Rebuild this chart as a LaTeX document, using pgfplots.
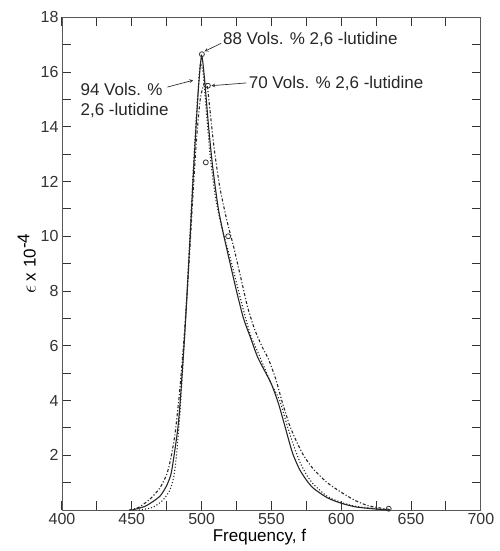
\documentclass[border=0pt]{standalone}
\usepackage{pgfplots}
\pgfplotsset{compat=1.18}
\usepackage{fontspec}
\setmainfont{Liberation Sans}
\begin{document}
\begin{tikzpicture}
\begin{axis}[
  at={(62pt,41pt)}, anchor=south west,
  width=419pt, height=493pt, scale only axis,
  xmin=400, xmax=700, ymin=0, ymax=18,
  xtick={400,450,...,700}, ytick={2,4,...,18},
  minor xtick={425,475,...,675}, minor ytick={1,3,...,17},
  tick align=inside, xtick pos=both, ytick pos=both,
  major tick length=9pt, minor tick length=9pt,
  xtick style={draw=black!80, line width=1pt},
  ytick style={draw=black!80, line width=1pt},
  axis line style={black!65, line width=0.8pt},
  font=\fontsize{17}{20}\selectfont,
  tick label style={font=\fontsize{16}{19}\selectfont, text=black!80},
  /pgf/number format/assume math mode=true,
  /pgf/number format/1000 sep={},
  xlabel={Frequency, f},
  ylabel={{\fontsize{21}{21}\selectfont$\epsilon$} x 10$^{\textrm{-4}}$},
  xlabel style={xshift=-12pt, yshift=3pt},
  ylabel style={yshift=-2pt},
  clip=false,
]
\path (rel axis cs:-0.148,-0.083) rectangle (rel axis cs:1.045,1.035);
% solid
\addplot[black!85, line width=1.1pt, smooth, tension=0.4] coordinates {
(450,0) (460,0.15) (470,0.5) (475,0.9) (478,1.3) (480,1.9) (483,3.0) (485,4.2)
(488,6.5) (490,8.3) (492,10.2) (494,12.2) (496,14.0) (498,15.6) (500,16.6)
(502,15.8) (505,14.0) (508,12.5) (512,11.0) (516,10.0) (520,9.1) (525,8.0)
(530,7.0) (535,6.3) (540,5.6) (545,5.1) (550,4.6) (555,3.9) (560,3.0)
(565,2.1) (570,1.5) (575,1.1) (580,0.8) (590,0.45) (600,0.25) (610,0.12)
(620,0.06) (635,0.0)};
% dotted
\addplot[black!85, line width=1.1pt, dotted, smooth, tension=0.4] coordinates {
(455,0) (465,0.1) (472,0.35) (477,0.7) (480,1.2) (482,2.0) (484,3.2) (486,4.8)
(488,6.5) (490,8.4) (492,10.4) (494,12.4) (496,14.2) (498,15.7) (499,16.3)
(501,16.0) (503,14.8) (506,13.0) (510,11.4) (515,10.2) (520,9.3) (525,8.3)
(530,7.3) (535,6.4) (540,5.8) (545,5.2) (550,4.6) (556,4.0) (560,3.3)
(565,2.5) (570,1.8) (575,1.3) (580,0.95) (590,0.5) (600,0.28) (610,0.14)
(625,0.05) (635,0)};
% dash-dot
\addplot[black!85, line width=1.1pt, dash dot, smooth, tension=0.4] coordinates {
(448,0) (455,0.1) (463,0.4) (470,0.8) (475,1.3) (478,1.9) (481,2.8) (484,4.2)
(487,6.0) (490,8.2) (493,10.8) (496,13.3) (499,15.0) (502,15.6) (504,15.5)
(506,14.6) (509,13.2) (513,11.8) (518,10.6) (523,9.6) (528,8.5) (533,7.4)
(538,6.6) (543,6.0) (548,5.5) (553,4.8) (558,3.9) (563,3.1) (568,2.5)
(573,2.0) (580,1.5) (590,1.0) (600,0.65) (610,0.35) (620,0.15) (635,0.02)};
% circles
\addplot[only marks, mark=o, mark size=2.5pt, black!80, line width=0.8pt] coordinates {
(500.2,16.65) (504.5,15.5) (503,12.7) (519,10.0) (634,0.05)};
% annotations
\node[anchor=west, inner sep=1pt, text=black!85] at (axis cs:514.5,17.2) {88 Vols. \% 2,6 -lutidine};
\draw[->, >=stealth, black!80, line width=0.7pt] (axis cs:514,17.05) -- (axis cs:502,16.75);
\node[anchor=west, inner sep=1pt, text=black!85] at (axis cs:533,15.6) {70 Vols. \% 2,6 -lutidine};
\draw[->, >=stealth, black!80, line width=0.7pt] (axis cs:532,15.6) -- (axis cs:507,15.5);
\node[anchor=west, inner sep=1pt, text=black!85, align=left] at (axis cs:412.5,14.95) {94 Vols. \%\\2,6 -lutidine};
\draw[->, >=stealth, black!80, line width=0.7pt] (axis cs:475.5,15.45) -- (axis cs:494,15.7);
\end{axis}
\end{tikzpicture}
\end{document}
